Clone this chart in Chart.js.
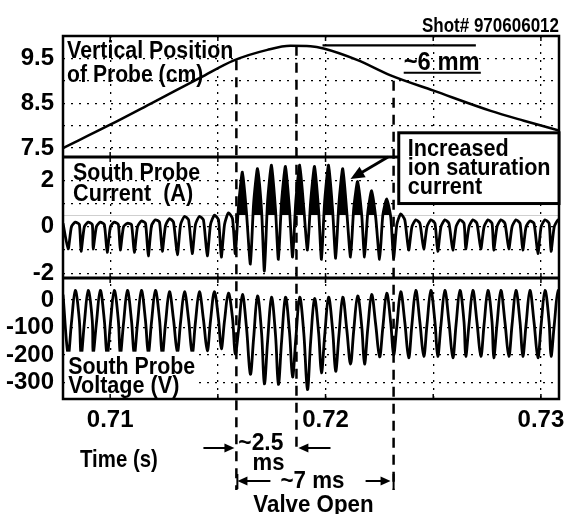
<!DOCTYPE html>
<html>
<head>
<meta charset="utf-8">
<script src="https://cdn.jsdelivr.net/npm/chart.js@4.4.0/dist/chart.umd.min.js"></script>
<style>
  html, body { margin: 0; padding: 0; background: #fff; }
  #wrap { width: 564px; height: 514px; position: relative; }
</style>
</head>
<body>
<div id="wrap"><canvas id="chart" width="564" height="514"></canvas></div>
<script>
// ---- data ----
// probe vertical position (cm)
const posTime = [0.70781, 0.71000, 0.71200, 0.71419, 0.71572, 0.71730, 0.71837, 0.71930,
                 0.71991, 0.72149, 0.72302, 0.72502, 0.72767, 0.72921, 0.73084];
const posValue = [7.50, 8.02, 8.52, 9.07, 9.45, 9.69, 9.78, 9.77,
                  9.72, 9.46, 9.12, 8.78, 8.33, 8.11, 7.89];

// sample times shared by both probe traces (dip, rise, top, fall per cycle)
const waveTime = [0.70781,
  0.70805, 0.70820, 0.70838, 0.70857,  0.70865, 0.70880, 0.70898, 0.70917,
  0.70921, 0.70936, 0.70954, 0.70973,  0.70986, 0.71001, 0.71019, 0.71038,
  0.71047, 0.71062, 0.71080, 0.71099,  0.71112, 0.71127, 0.71145, 0.71164,
  0.71177, 0.71192, 0.71210, 0.71229,  0.71242, 0.71257, 0.71275, 0.71294,
  0.71312, 0.71327, 0.71345, 0.71364,  0.71381, 0.71396, 0.71414, 0.71433,
  0.71451, 0.71466, 0.71484, 0.71503,  0.71516, 0.71531, 0.71549, 0.71568,
  0.71581, 0.71596, 0.71614, 0.71633,  0.71651, 0.71666, 0.71684, 0.71703,
  0.71716, 0.71731, 0.71749, 0.71768,  0.71781, 0.71796, 0.71814, 0.71833,
  0.71847, 0.71862, 0.71880, 0.71899,  0.71916, 0.71931, 0.71949, 0.71968,
  0.71981, 0.71996, 0.72014, 0.72033,  0.72047, 0.72062, 0.72080, 0.72099,
  0.72116, 0.72131, 0.72149, 0.72168,  0.72181, 0.72196, 0.72214, 0.72233,
  0.72251, 0.72266, 0.72284, 0.72303,  0.72316, 0.72331, 0.72349, 0.72368,
  0.72386, 0.72401, 0.72419, 0.72438,  0.72456, 0.72471, 0.72489, 0.72508,
  0.72521, 0.72536, 0.72554, 0.72573,  0.72591, 0.72606, 0.72624, 0.72643,
  0.72651, 0.72666, 0.72684, 0.72703,  0.72721, 0.72736, 0.72754, 0.72773,
  0.72781, 0.72796, 0.72814, 0.72833,  0.72851, 0.72866, 0.72884, 0.72903,
  0.72916, 0.72931, 0.72949, 0.72968,  0.72986, 0.73001, 0.73019, 0.73038,
  0.73047, 0.73062, 0.73080, 0.73099];

// south probe current (A)
const currentAmp = [0.15,
  -0.95, 0.0, 0.20, 0.10,  -1.05, 0.0, 0.20, 0.10,
  -0.95, 0.0, 0.20, 0.10,  -1.10, 0.0, 0.20, 0.10,
  -1.00, 0.0, 0.15, 0.10,  -1.10, 0.0, 0.25, 0.15,
  -1.25, 0.05, 0.30, 0.20,  -1.05, 0.05, 0.35, 0.20,
  -1.20, 0.10, 0.45, 0.30,  -1.15, 0.10, 0.45, 0.30,
  -1.25, 0.10, 0.50, 0.30,  -1.30, 0.10, 0.60, 0.35,
  -1.15, 0.90, 2.35, 0.60,  -1.60, 1.00, 2.50, 0.70,
  -1.90, 1.10, 2.65, 0.70,  -1.40, 1.10, 2.60, 0.70,
  -1.30, 1.10, 2.65, 0.80,  -1.00, 1.10, 2.60, 0.70,
  -1.40, 1.10, 2.65, 0.70,  -1.35, 1.00, 2.50, 0.60,
  -1.30, 0.80, 1.95, 0.50,  -1.30, 0.60, 1.55, 0.40,
  -1.40, 0.50, 1.20, 0.40,  -1.35, 0.10, 0.55, 0.30,
  -1.00, 0.0, 0.30, 0.15,  -0.95, 0.0, 0.30, 0.15,
  -1.05, 0.0, 0.30, 0.15,  -1.00, 0.0, 0.30, 0.15,
  -0.95, 0.0, 0.30, 0.15,  -0.95, 0.0, 0.30, 0.15,
  -1.00, 0.0, 0.30, 0.15,  -0.95, 0.0, 0.30, 0.15,
  -1.00, 0.0, 0.25, 0.15,  -1.15, 0.0, 0.30, 0.15,
  -1.05, 0.0, 0.30, 0.15];

// south probe voltage (V)
const voltage = [20,
  -200, -85, 35, -75,  -205, -85, 35, -75,
  -195, -85, 35, -75,  -205, -85, 35, -75,
  -200, -85, 35, -75,  -200, -85, 35, -75,
  -195, -80, 35, -70,  -200, -85, 30, -70,
  -190, -80, 30, -70,  -195, -80, 30, -70,
  -185, -75, 30, -70,  -178, -75, 25, -65,
  -196, -110, 20, -100,  -270, -140, 15, -120,
  -305, -150, 10, -130,  -307, -150, 10, -120,
  -280, -140, 10, -120,  -326, -150, 5, -120,
  -265, -130, 10, -110,  -259, -130, 10, -110,
  -233, -110, 15, -95,  -233, -105, 20, -90,
  -207, -100, 25, -85,  -200, -95, 30, -80,
  -210, -90, 35, -80,  -205, -90, 35, -80,
  -205, -90, 35, -80,  -210, -90, 35, -80,
  -205, -90, 35, -80,  -205, -90, 35, -80,
  -210, -90, 35, -80,  -205, -90, 35, -80,
  -205, -90, 35, -80,  -210, -90, 35, -80,
  -205, -90, 35, -80];

// valve open, density rise, valve close (s)
const markerTimes = [0.71586, 0.71865, 0.72316];

// axis ticks
const timeGrid = [0.710, 0.715, 0.720, 0.725, 0.730];
const timeLabels = [0.71, 0.72, 0.73];
const posGrid = [7.5, 8.0, 8.5, 9.0, 9.5];
const posLabels = [7.5, 8.5, 9.5];
const curGrid = [-2, -1, 0, 1, 2];
const curLabels = [-2, 0, 2];
const voltGrid = [-300, -200, -100, 0];
const voltLabels = [-300, -200, -100, 0];

// ---- chart ----
const FONT = "'Liberation Sans', Arial, sans-serif";
const font = (px) => `bold ${px}px ${FONT}`;
const has = (list, v) => list.some((l) => Math.abs(l - v) < 1e-9);

function yAxis(grid, labels, min, max, weight) {
  return {
    type: "linear", axis: "y", position: "left", stack: "panels", stackWeight: 1, weight,
    min, max,
    afterFit: (s) => { s.width = 63; },
    afterBuildTicks: (s) => { s.ticks = grid.map((v) => ({ value: v })); },
    grid: { color: "#000", lineWidth: 1.3, drawTicks: false },
    border: { display: false, dash: [2, 6] },
    ticks: {
      autoSkip: false, padding: 9, color: "#000", font: { family: FONT, size: 24, weight: "bold" },
      callback: (v) => (has(labels, v) ? String(v) : ""),
    },
  };
}

const toPoints = (xs, ys) => xs.map((t, i) => ({ x: t, y: ys[i] }));

// condensed bold caption, squeezed horizontally like the original lettering
function label(ctx, s, x, y, size, sx = 0.89, align = "left") {
  ctx.save();
  ctx.font = font(size);
  ctx.textAlign = align;
  ctx.textBaseline = "alphabetic";
  ctx.translate(x, y);
  ctx.scale(sx, 1);
  ctx.fillText(s, 0, 0);
  ctx.restore();
}

function arrow(ctx, x1, y, x2) {
  const dir = Math.sign(x2 - x1);
  ctx.beginPath();
  ctx.moveTo(x1, y);
  ctx.lineTo(x2 - dir * 8, y);
  ctx.stroke();
  ctx.beginPath();
  ctx.moveTo(x2, y);
  ctx.lineTo(x2 - dir * 10, y - 4.5);
  ctx.lineTo(x2 - dir * 10, y + 4.5);
  ctx.closePath();
  ctx.fill();
}

const overlay = {
  id: "overlay",
  afterDatasetsDraw(chart) {
    const { ctx, chartArea: a, scales } = chart;
    const { x, yPos, yCur, yVolt } = scales;
    const X = (t) => x.getPixelForValue(t);
    const B = a.bottom;
    ctx.save();

    // white patch behind voltage caption
    const capTop = yVolt.getPixelForValue(-188);
    ctx.fillStyle = "#fff";
    ctx.fillRect(a.left + 2, capTop, X(0.71403) - a.left, B - capTop);

    // panel captions
    ctx.fillStyle = "#000";
    label(ctx, "Vertical Position", X(0.70800), yPos.getPixelForValue(9.5), 24, 0.89);
    label(ctx, "of Probe (cm)", X(0.70800), yPos.getPixelForValue(8.98), 24, 0.88);
    label(ctx, "South Probe", X(0.70828), yCur.getPixelForValue(2.0), 24, 0.89);
    label(ctx, "Current  (A)", X(0.70828), yCur.getPixelForValue(1.09), 24, 0.9);
    label(ctx, "South Probe", X(0.70805), yVolt.getPixelForValue(-270), 24, 0.89);
    label(ctx, "Voltage (V)", X(0.70805), yVolt.getPixelForValue(-337), 24, 0.9);

    // frame, panel separators and small inner ticks
    ctx.strokeStyle = "#000";
    ctx.lineWidth = 2.5;
    ctx.strokeRect(a.left, a.top, a.width, a.height);
    ctx.lineWidth = 3;
    ctx.beginPath();
    ctx.moveTo(a.left, yPos.bottom); ctx.lineTo(a.right, yPos.bottom);
    ctx.moveTo(a.left, yCur.bottom); ctx.lineTo(a.right, yCur.bottom);
    ctx.stroke();
    ctx.lineWidth = 1.5;
    ctx.beginPath();
    for (const t of timeGrid) {
      const px = X(t);
      for (const edge of [a.top, yPos.bottom, yCur.bottom, a.bottom]) {
        ctx.moveTo(px, edge - (edge === a.top ? 0 : 5));
        ctx.lineTo(px, edge + (edge === a.bottom ? 0 : 5));
      }
    }
    ctx.stroke();

    // dashed valve markers
    const tops = [9.46, 9.78, 9.0];
    const drops = [91, 53, 91];
    ctx.lineWidth = 2.5;
    ctx.setLineDash([10, 7]);
    markerTimes.forEach((t, i) => {
      ctx.beginPath();
      ctx.moveTo(X(t), yPos.getPixelForValue(tops[i]));
      ctx.lineTo(X(t), B + drops[i]);
      ctx.stroke();
    });
    ctx.setLineDash([]);

    // ~6 mm annotation
    ctx.lineWidth = 2.2;
    ctx.beginPath();
    ctx.moveTo(X(0.71986), yPos.getPixelForValue(9.79));
    ctx.lineTo(X(0.72698), yPos.getPixelForValue(9.79));
    ctx.moveTo(X(0.72363), yPos.getPixelForValue(9.18));
    ctx.lineTo(X(0.72721), yPos.getPixelForValue(9.18));
    ctx.stroke();
    label(ctx, "~6 mm", X(0.72363), yPos.getPixelForValue(9.24), 25, 0.95);

    // callout box
    const bx = X(0.72340), by = yPos.getPixelForValue(7.84);
    const bh = yCur.getPixelForValue(1.0) - by;
    ctx.fillStyle = "#fff";
    ctx.fillRect(bx, by, a.right - bx, bh);
    ctx.lineWidth = 3;
    ctx.strokeRect(bx, by, a.right - bx, bh);
    ctx.fillStyle = "#000";
    label(ctx, "Increased", bx + 9, by + 23, 24, 0.9);
    label(ctx, "ion saturation", bx + 9, by + 42, 24, 0.9);
    label(ctx, "current", bx + 9, by + 61, 24, 0.9);

    // arrow to the spikes
    const ax1 = X(0.72290), ay1 = yCur.getPixelForValue(3.0);
    const ax2 = X(0.72116), ay2 = yCur.getPixelForValue(2.05);
    const ang = Math.atan2(ay2 - ay1, ax2 - ax1);
    ctx.lineWidth = 3;
    ctx.beginPath();
    ctx.moveTo(ax1, ay1);
    ctx.lineTo(ax2 - 10 * Math.cos(ang), ay2 - 10 * Math.sin(ang));
    ctx.stroke();
    ctx.beginPath();
    ctx.moveTo(ax2, ay2);
    ctx.lineTo(ax2 - 14 * Math.cos(ang) + 6 * Math.sin(ang), ay2 - 14 * Math.sin(ang) - 6 * Math.cos(ang));
    ctx.lineTo(ax2 - 14 * Math.cos(ang) - 6 * Math.sin(ang), ay2 - 14 * Math.sin(ang) + 6 * Math.cos(ang));
    ctx.closePath();
    ctx.fill();

    // below the time axis
    label(ctx, "Time (s)", X(0.70860), B + 68, 24, 0.85);
    label(ctx, "~2.5", X(0.71595), B + 51, 24, 0.95);
    label(ctx, "ms", X(0.71735), B + 71, 24, 0.92, "center");
    label(ctx, "Valve Open", X(0.71944), B + 113, 24, 0.93, "center");
    label(ctx, "~7 ms", X(0.71791), B + 89, 24, 0.93);
    ctx.lineWidth = 2;
    arrow(ctx, X(0.71433), B + 49, X(0.71577));
    arrow(ctx, X(0.72023), B + 49, X(0.71874));
    arrow(ctx, X(0.71744), B + 82, X(0.71591));
    arrow(ctx, X(0.72186), B + 82, X(0.72302));
    ctx.beginPath();
    ctx.moveTo(X(markerTimes[0]) + 1, B + 75); ctx.lineTo(X(markerTimes[0]) + 1, B + 90);
    ctx.moveTo(X(markerTimes[2]), B + 75); ctx.lineTo(X(markerTimes[2]), B + 90);
    ctx.stroke();

    // shot number
    label(ctx, "Shot# 970606012", a.right, a.top - 4, 20, 0.85, "right");
    ctx.restore();
  },
};

new Chart(document.getElementById("chart"), {
  type: "line",
  data: {
    datasets: [
      { data: toPoints(posTime, posValue), yAxisID: "yPos", borderColor: "#000", borderWidth: 2.5,
        pointRadius: 0, cubicInterpolationMode: "monotone" },
      { data: toPoints(waveTime, currentAmp), yAxisID: "yCur", borderColor: "#000", borderWidth: 2.8,
        pointRadius: 0, tension: 0.2,
        fill: { target: { value: 0.5 }, above: "#000", below: "rgba(0,0,0,0)" } },
      { data: toPoints(waveTime, voltage), yAxisID: "yVolt", borderColor: "#000", borderWidth: 2.8,
        pointRadius: 0, tension: 0.35 },
    ],
  },
  options: {
    responsive: false,
    animation: false,
    devicePixelRatio: 1,
    layout: { padding: { top: 36, right: 5, left: 0, bottom: 0 } },
    plugins: { legend: { display: false }, tooltip: { enabled: false } },
    scales: {
      x: {
        type: "linear", position: "bottom", min: 0.70781, max: 0.73084,
        afterFit: (s) => { s.height = 115; s.paddingLeft = 0; s.paddingRight = 0; },
        afterBuildTicks: (s) => { s.ticks = timeGrid.map((v) => ({ value: v })); },
        grid: { color: "#000", lineWidth: 1.3, drawTicks: false },
        border: { display: false, dash: [2, 6] },
        ticks: {
          autoSkip: false, maxRotation: 0, padding: 7, color: "#000",
          font: { family: FONT, size: 24, weight: "bold" },
          callback: (v) => (has(timeLabels, v) ? v.toFixed(2) : ""),
        },
      },
      yPos: yAxis(posGrid, posLabels, 7.3, 10.0, 3),
      yCur: yAxis(curGrid, curLabels, -2.2, 3.0, 2),
      yVolt: yAxis(voltGrid, voltLabels, -360, 80, 1),
    },
  },
  plugins: [overlay],
});
</script>
</body>
</html>
